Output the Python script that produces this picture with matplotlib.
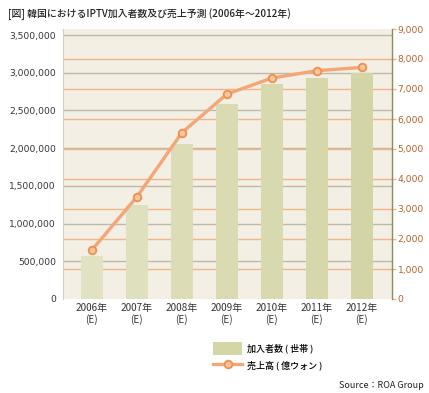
import matplotlib
matplotlib.use("Agg")
import matplotlib.pyplot as plt
import matplotlib.transforms as mtransforms
from matplotlib.lines import Line2D
from matplotlib.patches import Patch
import numpy as np

plt.rcParams['font.family'] = ['Noto Sans CJK JP', 'DejaVu Sans']

years = ["2006年\n(E)", "2007年\n(E)", "2008年\n(E)", "2009年\n(E)", "2010年\n(E)", "2011年\n(E)", "2012年\n(E)"]
subscribers = [575000, 1250000, 2050000, 2590000, 2850000, 2935000, 3000000]
sales = [1630, 3400, 5540, 6830, 7365, 7610, 7720]
left_ticks = [0, 500000, 1000000, 1500000, 2000000, 2500000, 3000000, 3500000]
right_ticks = [0, 1000, 2000, 3000, 4000, 5000, 6000, 7000, 8000, 9000]

title = "[図] 韓国におけるIPTV加入者数及び売上予測 (2006年～2012年)"
legend_bar = "加入者数 ( 世帯 )"
legend_line = "売上高 ( 億ウォン )"
source = "Source：ROA Group"

W, H = 429, 393
fig = plt.figure(figsize=(W / 100, H / 100), dpi=100)
fig.patch.set_facecolor("white")

L, R, T, B = 63, 392, 29, 299
ax = fig.add_axes([L / W, 1 - B / H, (R - L) / W, (B - T) / H])
ax2 = ax.twinx()

ax.set_facecolor("#F3EFE4")
ax.set_ylim(0, 3580000)
ax2.set_ylim(0, 9000)
x = np.arange(len(years))
ax.set_xlim(-0.64, 6.67)

# gridlines
for v in left_ticks[1:]:
    ax.axhline(v, color="#BDB9A8", lw=1.0, zorder=0.6)
blend = mtransforms.blended_transform_factory(ax.transAxes, ax2.transData)
for v in right_ticks[1:-1]:
    ax.plot([0, 1], [v, v], transform=blend, color="#F2B488", lw=1.0, zorder=0.7)

bar_colors = ["#E1E2C2", "#DFE0BD", "#DCDDB7", "#DADBB2", "#D8D9AE", "#D6D7AA", "#D4D5A6"]
ax.bar(x, subscribers, width=0.5, color=bar_colors, zorder=2)

ax2.patch.set_visible(False)
ax2.plot(x, sales, color="#F4A676", lw=2.4, marker="o", markersize=5.5,
         markerfacecolor="#F8C79E", markeredgecolor="#F08E4E", markeredgewidth=1.3, zorder=3)

# axes styling
for s in ["top", "bottom"]:
    ax.spines[s].set_visible(False)
    ax2.spines[s].set_visible(False)
ax.spines["right"].set_visible(False)
ax.spines["left"].set_color("#D2CEC0")
ax2.spines["left"].set_visible(False)
ax2.spines["right"].set_color("#8C8C60")
ax2.spines["right"].set_linewidth(1.0)

num_font = ['DejaVu Sans']
ax.set_yticks(left_ticks)
ax.set_yticklabels([f"{v:,}" for v in left_ticks], family=num_font)
ax.tick_params(axis="y", length=0, pad=5, labelsize=6.6, labelcolor="#333333")
ax.set_xticks(x)
ax.set_xticklabels(years, fontsize=7.2, linespacing=1.05)
ax.tick_params(axis="x", length=0, pad=3, labelcolor="#333333")

ax2.set_yticks(right_ticks)
ax2.set_yticklabels([f"{v:,}" for v in right_ticks], family=num_font)
ax2.tick_params(axis="y", length=3, width=1, color="#F2B488", pad=1, labelsize=6.6, labelcolor="#B5612A")

fig.text(8 / W, 1 - 14 / H, title, fontsize=7.1, va="center", ha="left", color="#222222",
         fontweight="medium")

handles = [Patch(facecolor="#D5D6A8", edgecolor="none"),
           Line2D([0], [0], color="#F4A676", lw=2.4, marker="o", markersize=5.5,
                  markerfacecolor="#F8C79E", markeredgecolor="#F08E4E", markeredgewidth=1.3)]
leg = fig.legend(handles, [legend_bar, legend_line], loc="upper left",
                 bbox_to_anchor=(205 / W, 1 - 334 / H), frameon=False,
                 prop={'size': 6.5, 'weight': 'medium'},
                 handlelength=3.2, handleheight=1.9, labelspacing=0.4, handletextpad=0.6)

fig.text(424 / W, 1 - 385 / H, source, fontsize=6.5, ha="right", va="center", color="#222222")

fig.savefig("out.png", dpi=100)
